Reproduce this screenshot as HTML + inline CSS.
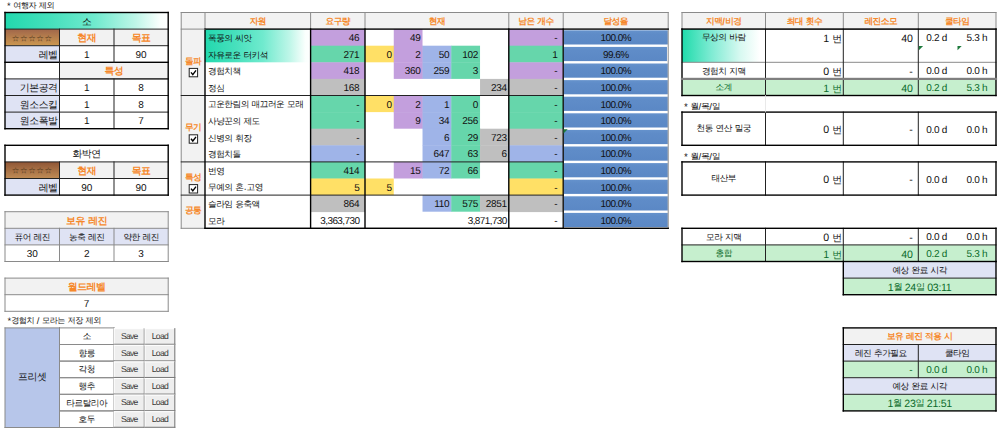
<!DOCTYPE html>
<html lang="ko"><head><meta charset="utf-8"><title>sheet</title>
<style>
html,body{margin:0;padding:0;background:#fff;}
body{width:1000px;height:431px;overflow:hidden;position:relative;font-family:"Liberation Sans",sans-serif;color:#111;text-rendering:geometricPrecision;}
#bg{position:absolute;left:0;top:0;}
.t{position:absolute;white-space:nowrap;overflow:visible;font-size:10px;}
.h{font-size:0.87em;letter-spacing:-0.06em;word-spacing:0.1em;position:relative;top:-1.2px;}
.a{font-size:10px;margin-top:0.7px;}
.a .h{font-size:0.99em;letter-spacing:-0.045em;word-spacing:0.1em;top:0;}
.m{font-size:10px;letter-spacing:-0.3px;margin-top:0.7px;}
.s{font-size:10px;}
.pc{letter-spacing:-0.55px;}
.big{letter-spacing:-0.6px;}
.rb{font-size:10.6px;letter-spacing:-0.2px;}
.rb .h{font-size:0.93em;letter-spacing:0;top:-0.4px;margin-left:0.6px;}
.xs{font-size:9.8px;}
.note{font-size:9.4px;}
.dt{font-size:10.6px;}
.btn{font-size:8.6px;color:#3a3a3a;letter-spacing:-0.75px;}
.o{color:#f6882a;font-weight:bold;}
.g{color:#0b6b2a;}
.star{font-size:7.6px;color:#4a3318;letter-spacing:0.6px;}
</style></head><body>
<svg id="bg" width="1000" height="431" viewBox="0 0 1000 431">
<defs>
<linearGradient id="gteal" x1="0" x2="1" y1="0" y2="0"><stop offset="0" stop-color="#22d9ae"/><stop offset="0.28" stop-color="#46e0bc"/><stop offset="0.55" stop-color="#70eace"/><stop offset="0.8" stop-color="#bef6e8"/><stop offset="0.95" stop-color="#fafffd"/><stop offset="1" stop-color="#ffffff"/></linearGradient>
<linearGradient id="gteal2" x1="0" x2="1" y1="0" y2="0"><stop offset="0" stop-color="#22d9ae"/><stop offset="0.28" stop-color="#46e0bc"/><stop offset="0.55" stop-color="#70eace"/><stop offset="0.8" stop-color="#bef6e8"/><stop offset="0.95" stop-color="#fafffd"/><stop offset="1" stop-color="#ffffff"/></linearGradient>
<linearGradient id="gteal3" x1="0" x2="1" y1="0" y2="0"><stop offset="0" stop-color="#1fdbab"/><stop offset="0.35" stop-color="#7eebd3"/><stop offset="0.7" stop-color="#d8f9f1"/><stop offset="0.93" stop-color="#ffffff"/></linearGradient>
<linearGradient id="gbrown" x1="0" x2="0" y1="0" y2="1"><stop offset="0" stop-color="#a0664a"/><stop offset="1" stop-color="#cc9850"/></linearGradient>
<linearGradient id="gbrown2" x1="0" x2="0" y1="0" y2="1"><stop offset="0" stop-color="#8f5636"/><stop offset="1" stop-color="#c08c55"/></linearGradient>
<linearGradient id="gbar" x1="0" x2="0" y1="0" y2="1"><stop offset="0" stop-color="#6592cc"/><stop offset="0.25" stop-color="#5f8cc8"/><stop offset="1" stop-color="#5b88c5"/></linearGradient>
</defs>
<rect x="5.00" y="12.50" width="163.20" height="16.60" fill="url(#gteal)" />
<rect x="5.00" y="29.10" width="54.50" height="16.60" fill="url(#gbrown)" />
<rect x="59.50" y="29.10" width="108.70" height="16.60" fill="#f2f2f2" />
<rect x="5.00" y="45.70" width="54.50" height="16.60" fill="#dfe3f4" />
<rect x="59.50" y="62.30" width="108.70" height="16.60" fill="#f2f2f2" />
<rect x="5.00" y="78.90" width="54.50" height="16.60" fill="#dfe3f4" />
<rect x="5.00" y="95.50" width="54.50" height="16.60" fill="#dfe3f4" />
<rect x="5.00" y="112.10" width="54.50" height="16.60" fill="#dfe3f4" />
<rect x="4.50" y="28.60" width="164.20" height="1.00" fill="#222"/>
<rect x="4.50" y="45.20" width="164.20" height="1.00" fill="#222"/>
<rect x="4.50" y="78.40" width="164.20" height="1.00" fill="#222"/>
<rect x="4.50" y="95.00" width="164.20" height="1.00" fill="#222"/>
<rect x="4.50" y="111.60" width="164.20" height="1.00" fill="#222"/>
<rect x="4.31" y="61.61" width="164.58" height="1.38" fill="#000"/>
<rect x="59.00" y="78.40" width="109.70" height="1.00" fill="#222"/>
<rect x="59.00" y="28.60" width="1.00" height="100.60" fill="#222"/>
<rect x="113.50" y="28.60" width="1.00" height="34.20" fill="#222"/>
<rect x="113.50" y="78.40" width="1.00" height="50.80" fill="#222"/>
<rect x="4.31" y="11.81" width="164.58" height="1.38" fill="#000"/>
<rect x="4.31" y="128.01" width="164.58" height="1.38" fill="#000"/>
<rect x="4.31" y="11.81" width="1.38" height="117.58" fill="#000"/>
<rect x="167.51" y="11.81" width="1.38" height="117.58" fill="#000"/>
<rect x="5.00" y="161.90" width="54.50" height="16.60" fill="url(#gbrown2)" />
<rect x="59.50" y="161.90" width="108.70" height="16.60" fill="#f2f2f2" />
<rect x="5.00" y="178.50" width="54.50" height="16.60" fill="#dfe3f4" />
<rect x="4.50" y="161.40" width="164.20" height="1.00" fill="#222"/>
<rect x="4.50" y="178.00" width="164.20" height="1.00" fill="#222"/>
<rect x="59.00" y="161.40" width="1.00" height="34.20" fill="#222"/>
<rect x="113.50" y="161.40" width="1.00" height="34.20" fill="#222"/>
<rect x="4.31" y="144.61" width="164.58" height="1.38" fill="#000"/>
<rect x="4.31" y="194.41" width="164.58" height="1.38" fill="#000"/>
<rect x="4.31" y="144.61" width="1.38" height="51.18" fill="#000"/>
<rect x="167.51" y="144.61" width="1.38" height="51.18" fill="#000"/>
<rect x="5.00" y="211.70" width="163.20" height="16.60" fill="#f2f2f2" />
<rect x="5.00" y="228.30" width="163.20" height="16.60" fill="#dfe3f4" />
<rect x="4.50" y="227.80" width="164.20" height="1.00" fill="#8a8a8a"/>
<rect x="4.50" y="244.40" width="164.20" height="1.00" fill="#8a8a8a"/>
<rect x="59.00" y="227.80" width="1.00" height="34.20" fill="#8a8a8a"/>
<rect x="113.50" y="227.80" width="1.00" height="34.20" fill="#8a8a8a"/>
<rect x="4.50" y="211.20" width="164.20" height="1.00" fill="#8a8a8a"/>
<rect x="4.50" y="261.00" width="164.20" height="1.00" fill="#8a8a8a"/>
<rect x="4.50" y="211.20" width="1.00" height="50.80" fill="#8a8a8a"/>
<rect x="167.70" y="211.20" width="1.00" height="50.80" fill="#8a8a8a"/>
<rect x="5.00" y="278.10" width="163.20" height="16.60" fill="#f2f2f2" />
<rect x="4.50" y="294.20" width="164.20" height="1.00" fill="#8a8a8a"/>
<rect x="4.50" y="277.60" width="164.20" height="1.00" fill="#8a8a8a"/>
<rect x="4.50" y="310.80" width="164.20" height="1.00" fill="#8a8a8a"/>
<rect x="4.50" y="277.60" width="1.00" height="34.20" fill="#8a8a8a"/>
<rect x="167.70" y="277.60" width="1.00" height="34.20" fill="#8a8a8a"/>
<rect x="5.00" y="327.90" width="54.50" height="99.60" fill="#b7c6ea" />
<rect x="4.50" y="327.40" width="55.50" height="1.00" fill="#8a8a8a"/>
<rect x="4.50" y="427.00" width="55.50" height="1.00" fill="#8a8a8a"/>
<rect x="4.50" y="327.40" width="1.00" height="100.60" fill="#8a8a8a"/>
<rect x="59.00" y="327.40" width="1.00" height="100.60" fill="#8a8a8a"/>
<rect x="59.00" y="327.40" width="55.50" height="1.00" fill="#8a8a8a"/>
<rect x="59.00" y="344.00" width="55.50" height="1.00" fill="#8a8a8a"/>
<rect x="59.00" y="327.40" width="1.00" height="17.60" fill="#8a8a8a"/>
<rect x="113.50" y="327.40" width="1.00" height="17.60" fill="#8a8a8a"/>
<rect x="114.30" y="328.70" width="30.00" height="15.60" fill="#eeeeee" />
<rect x="113.80" y="328.20" width="31.00" height="1.00" fill="#ffffff"/>
<rect x="113.80" y="328.20" width="1.00" height="16.60" fill="#ffffff"/>
<rect x="113.75" y="343.75" width="31.10" height="1.10" fill="#7c7c7c"/>
<rect x="143.75" y="328.15" width="1.10" height="16.70" fill="#7c7c7c"/>
<rect x="145.00" y="328.70" width="29.80" height="15.60" fill="#eeeeee" />
<rect x="144.50" y="328.20" width="30.80" height="1.00" fill="#ffffff"/>
<rect x="144.50" y="328.20" width="1.00" height="16.60" fill="#ffffff"/>
<rect x="144.45" y="343.75" width="30.90" height="1.10" fill="#7c7c7c"/>
<rect x="174.25" y="328.15" width="1.10" height="16.70" fill="#7c7c7c"/>
<rect x="59.00" y="344.00" width="55.50" height="1.00" fill="#8a8a8a"/>
<rect x="59.00" y="360.60" width="55.50" height="1.00" fill="#8a8a8a"/>
<rect x="59.00" y="344.00" width="1.00" height="17.60" fill="#8a8a8a"/>
<rect x="113.50" y="344.00" width="1.00" height="17.60" fill="#8a8a8a"/>
<rect x="114.30" y="345.30" width="30.00" height="15.60" fill="#eeeeee" />
<rect x="113.80" y="344.80" width="31.00" height="1.00" fill="#ffffff"/>
<rect x="113.80" y="344.80" width="1.00" height="16.60" fill="#ffffff"/>
<rect x="113.75" y="360.35" width="31.10" height="1.10" fill="#7c7c7c"/>
<rect x="143.75" y="344.75" width="1.10" height="16.70" fill="#7c7c7c"/>
<rect x="145.00" y="345.30" width="29.80" height="15.60" fill="#eeeeee" />
<rect x="144.50" y="344.80" width="30.80" height="1.00" fill="#ffffff"/>
<rect x="144.50" y="344.80" width="1.00" height="16.60" fill="#ffffff"/>
<rect x="144.45" y="360.35" width="30.90" height="1.10" fill="#7c7c7c"/>
<rect x="174.25" y="344.75" width="1.10" height="16.70" fill="#7c7c7c"/>
<rect x="59.00" y="360.60" width="55.50" height="1.00" fill="#8a8a8a"/>
<rect x="59.00" y="377.20" width="55.50" height="1.00" fill="#8a8a8a"/>
<rect x="59.00" y="360.60" width="1.00" height="17.60" fill="#8a8a8a"/>
<rect x="113.50" y="360.60" width="1.00" height="17.60" fill="#8a8a8a"/>
<rect x="114.30" y="361.90" width="30.00" height="15.60" fill="#eeeeee" />
<rect x="113.80" y="361.40" width="31.00" height="1.00" fill="#ffffff"/>
<rect x="113.80" y="361.40" width="1.00" height="16.60" fill="#ffffff"/>
<rect x="113.75" y="376.95" width="31.10" height="1.10" fill="#7c7c7c"/>
<rect x="143.75" y="361.35" width="1.10" height="16.70" fill="#7c7c7c"/>
<rect x="145.00" y="361.90" width="29.80" height="15.60" fill="#eeeeee" />
<rect x="144.50" y="361.40" width="30.80" height="1.00" fill="#ffffff"/>
<rect x="144.50" y="361.40" width="1.00" height="16.60" fill="#ffffff"/>
<rect x="144.45" y="376.95" width="30.90" height="1.10" fill="#7c7c7c"/>
<rect x="174.25" y="361.35" width="1.10" height="16.70" fill="#7c7c7c"/>
<rect x="59.00" y="377.20" width="55.50" height="1.00" fill="#8a8a8a"/>
<rect x="59.00" y="393.80" width="55.50" height="1.00" fill="#8a8a8a"/>
<rect x="59.00" y="377.20" width="1.00" height="17.60" fill="#8a8a8a"/>
<rect x="113.50" y="377.20" width="1.00" height="17.60" fill="#8a8a8a"/>
<rect x="114.30" y="378.50" width="30.00" height="15.60" fill="#eeeeee" />
<rect x="113.80" y="378.00" width="31.00" height="1.00" fill="#ffffff"/>
<rect x="113.80" y="378.00" width="1.00" height="16.60" fill="#ffffff"/>
<rect x="113.75" y="393.55" width="31.10" height="1.10" fill="#7c7c7c"/>
<rect x="143.75" y="377.95" width="1.10" height="16.70" fill="#7c7c7c"/>
<rect x="145.00" y="378.50" width="29.80" height="15.60" fill="#eeeeee" />
<rect x="144.50" y="378.00" width="30.80" height="1.00" fill="#ffffff"/>
<rect x="144.50" y="378.00" width="1.00" height="16.60" fill="#ffffff"/>
<rect x="144.45" y="393.55" width="30.90" height="1.10" fill="#7c7c7c"/>
<rect x="174.25" y="377.95" width="1.10" height="16.70" fill="#7c7c7c"/>
<rect x="59.00" y="393.80" width="55.50" height="1.00" fill="#8a8a8a"/>
<rect x="59.00" y="410.40" width="55.50" height="1.00" fill="#8a8a8a"/>
<rect x="59.00" y="393.80" width="1.00" height="17.60" fill="#8a8a8a"/>
<rect x="113.50" y="393.80" width="1.00" height="17.60" fill="#8a8a8a"/>
<rect x="114.30" y="395.10" width="30.00" height="15.60" fill="#eeeeee" />
<rect x="113.80" y="394.60" width="31.00" height="1.00" fill="#ffffff"/>
<rect x="113.80" y="394.60" width="1.00" height="16.60" fill="#ffffff"/>
<rect x="113.75" y="410.15" width="31.10" height="1.10" fill="#7c7c7c"/>
<rect x="143.75" y="394.55" width="1.10" height="16.70" fill="#7c7c7c"/>
<rect x="145.00" y="395.10" width="29.80" height="15.60" fill="#eeeeee" />
<rect x="144.50" y="394.60" width="30.80" height="1.00" fill="#ffffff"/>
<rect x="144.50" y="394.60" width="1.00" height="16.60" fill="#ffffff"/>
<rect x="144.45" y="410.15" width="30.90" height="1.10" fill="#7c7c7c"/>
<rect x="174.25" y="394.55" width="1.10" height="16.70" fill="#7c7c7c"/>
<rect x="59.00" y="410.40" width="55.50" height="1.00" fill="#8a8a8a"/>
<rect x="59.00" y="427.00" width="55.50" height="1.00" fill="#8a8a8a"/>
<rect x="59.00" y="410.40" width="1.00" height="17.60" fill="#8a8a8a"/>
<rect x="113.50" y="410.40" width="1.00" height="17.60" fill="#8a8a8a"/>
<rect x="114.30" y="411.70" width="30.00" height="15.60" fill="#eeeeee" />
<rect x="113.80" y="411.20" width="31.00" height="1.00" fill="#ffffff"/>
<rect x="113.80" y="411.20" width="1.00" height="16.60" fill="#ffffff"/>
<rect x="113.75" y="426.75" width="31.10" height="1.10" fill="#7c7c7c"/>
<rect x="143.75" y="411.15" width="1.10" height="16.70" fill="#7c7c7c"/>
<rect x="145.00" y="411.70" width="29.80" height="15.60" fill="#eeeeee" />
<rect x="144.50" y="411.20" width="30.80" height="1.00" fill="#ffffff"/>
<rect x="144.50" y="411.20" width="1.00" height="16.60" fill="#ffffff"/>
<rect x="144.45" y="426.75" width="30.90" height="1.10" fill="#7c7c7c"/>
<rect x="174.25" y="411.15" width="1.10" height="16.70" fill="#7c7c7c"/>
<rect x="181.20" y="12.50" width="487.00" height="16.60" fill="#f2f2f2" />
<rect x="181.20" y="29.10" width="23.80" height="199.20" fill="#f2f2f2" />
<rect x="205.00" y="29.10" width="105.60" height="33.20" fill="url(#gteal2)" />
<rect x="310.60" y="29.10" width="54.40" height="17.00" fill="#c39fdd" />
<rect x="393.76" y="29.10" width="28.76" height="17.00" fill="#c39fdd" />
<rect x="508.80" y="29.10" width="54.40" height="17.00" fill="#c39fdd" />
<rect x="563.90" y="30.30" width="103.90" height="14.20" fill="url(#gbar)" />
<rect x="310.60" y="45.70" width="54.40" height="17.00" fill="#66d6ab" />
<rect x="365.00" y="45.70" width="29.16" height="16.60" fill="#ffe066" />
<rect x="393.76" y="45.70" width="29.16" height="17.00" fill="#c39fdd" />
<rect x="422.52" y="45.70" width="29.16" height="17.00" fill="#9fb4e8" />
<rect x="451.28" y="45.70" width="28.76" height="17.00" fill="#66d6ab" />
<rect x="508.80" y="45.70" width="54.40" height="17.00" fill="#66d6ab" />
<rect x="563.90" y="46.90" width="103.07" height="14.20" fill="url(#gbar)" />
<rect x="310.60" y="62.30" width="54.40" height="17.00" fill="#c39fdd" />
<rect x="393.76" y="62.30" width="29.16" height="16.60" fill="#c39fdd" />
<rect x="422.52" y="62.30" width="29.16" height="16.60" fill="#9fb4e8" />
<rect x="451.28" y="62.30" width="28.76" height="16.60" fill="#66d6ab" />
<rect x="508.80" y="62.30" width="54.40" height="17.00" fill="#c39fdd" />
<rect x="563.90" y="63.50" width="103.90" height="14.20" fill="url(#gbar)" />
<rect x="310.60" y="78.90" width="54.40" height="17.00" fill="#bfbfbf" />
<rect x="480.04" y="78.90" width="28.76" height="16.60" fill="#bfbfbf" />
<rect x="508.80" y="78.90" width="54.40" height="17.00" fill="#bfbfbf" />
<rect x="563.90" y="80.10" width="103.90" height="14.20" fill="url(#gbar)" />
<rect x="310.60" y="95.50" width="54.40" height="17.00" fill="#66d6ab" />
<rect x="365.00" y="95.50" width="29.16" height="16.60" fill="#ffe066" />
<rect x="393.76" y="95.50" width="29.16" height="17.00" fill="#c39fdd" />
<rect x="422.52" y="95.50" width="29.16" height="17.00" fill="#9fb4e8" />
<rect x="451.28" y="95.50" width="28.76" height="17.00" fill="#66d6ab" />
<rect x="508.80" y="95.50" width="54.40" height="17.00" fill="#66d6ab" />
<rect x="563.90" y="96.70" width="103.90" height="14.20" fill="url(#gbar)" />
<rect x="310.60" y="112.10" width="54.40" height="17.00" fill="#66d6ab" />
<rect x="393.76" y="112.10" width="29.16" height="16.60" fill="#c39fdd" />
<rect x="422.52" y="112.10" width="29.16" height="17.00" fill="#9fb4e8" />
<rect x="451.28" y="112.10" width="28.76" height="17.00" fill="#66d6ab" />
<rect x="508.80" y="112.10" width="54.40" height="17.00" fill="#66d6ab" />
<rect x="563.90" y="113.30" width="103.90" height="14.20" fill="url(#gbar)" />
<rect x="310.60" y="128.70" width="54.40" height="17.00" fill="#bfbfbf" />
<rect x="422.52" y="128.70" width="29.16" height="17.00" fill="#9fb4e8" />
<rect x="451.28" y="128.70" width="29.16" height="17.00" fill="#66d6ab" />
<rect x="480.04" y="128.70" width="28.76" height="17.00" fill="#bfbfbf" />
<rect x="508.80" y="128.70" width="54.40" height="17.00" fill="#bfbfbf" />
<rect x="563.90" y="129.90" width="103.90" height="14.20" fill="url(#gbar)" />
<rect x="310.60" y="145.30" width="54.40" height="17.00" fill="#9fb4e8" />
<rect x="422.52" y="145.30" width="29.16" height="17.00" fill="#9fb4e8" />
<rect x="451.28" y="145.30" width="29.16" height="17.00" fill="#66d6ab" />
<rect x="480.04" y="145.30" width="28.76" height="16.60" fill="#bfbfbf" />
<rect x="508.80" y="145.30" width="54.40" height="17.00" fill="#9fb4e8" />
<rect x="563.90" y="146.50" width="103.90" height="14.20" fill="url(#gbar)" />
<rect x="310.60" y="161.90" width="54.40" height="17.00" fill="#66d6ab" />
<rect x="393.76" y="161.90" width="29.16" height="16.60" fill="#c39fdd" />
<rect x="422.52" y="161.90" width="29.16" height="16.60" fill="#9fb4e8" />
<rect x="451.28" y="161.90" width="28.76" height="16.60" fill="#66d6ab" />
<rect x="508.80" y="161.90" width="54.40" height="17.00" fill="#66d6ab" />
<rect x="563.90" y="163.10" width="103.90" height="14.20" fill="url(#gbar)" />
<rect x="310.60" y="178.50" width="54.40" height="17.00" fill="#ffe066" />
<rect x="365.00" y="178.50" width="28.76" height="16.60" fill="#ffe066" />
<rect x="508.80" y="178.50" width="54.40" height="17.00" fill="#ffe066" />
<rect x="563.90" y="179.70" width="103.90" height="14.20" fill="url(#gbar)" />
<rect x="310.60" y="195.10" width="54.40" height="17.00" fill="#bfbfbf" />
<rect x="422.52" y="195.10" width="29.16" height="16.60" fill="#9fb4e8" />
<rect x="451.28" y="195.10" width="29.16" height="16.60" fill="#66d6ab" />
<rect x="480.04" y="195.10" width="28.76" height="16.60" fill="#bfbfbf" />
<rect x="508.80" y="195.10" width="54.40" height="17.00" fill="#bfbfbf" />
<rect x="563.90" y="196.30" width="103.90" height="14.20" fill="url(#gbar)" />
<rect x="563.90" y="212.90" width="103.90" height="14.20" fill="url(#gbar)" />
<rect x="204.50" y="12.00" width="1.00" height="17.60" fill="#8a8a8a"/>
<rect x="310.10" y="12.00" width="1.00" height="17.60" fill="#8a8a8a"/>
<rect x="364.50" y="12.00" width="1.00" height="17.60" fill="#8a8a8a"/>
<rect x="508.30" y="12.00" width="1.00" height="17.60" fill="#8a8a8a"/>
<rect x="562.70" y="12.00" width="1.00" height="17.60" fill="#8a8a8a"/>
<rect x="180.70" y="12.00" width="488.00" height="1.00" fill="#8a8a8a"/>
<rect x="180.70" y="227.80" width="488.00" height="1.00" fill="#8a8a8a"/>
<rect x="180.70" y="12.00" width="1.00" height="216.80" fill="#8a8a8a"/>
<rect x="667.70" y="12.00" width="1.00" height="216.80" fill="#8a8a8a"/>
<rect x="180.70" y="95.00" width="383.00" height="1.00" fill="#222"/>
<rect x="180.70" y="161.40" width="383.00" height="1.00" fill="#222"/>
<rect x="180.70" y="194.60" width="383.00" height="1.00" fill="#222"/>
<rect x="204.31" y="28.41" width="464.58" height="1.38" fill="#000"/>
<rect x="204.31" y="227.61" width="464.58" height="1.38" fill="#000"/>
<rect x="204.31" y="28.41" width="1.38" height="200.58" fill="#000"/>
<rect x="309.91" y="28.41" width="1.38" height="200.58" fill="#000"/>
<rect x="364.31" y="28.41" width="1.38" height="200.58" fill="#000"/>
<rect x="508.11" y="28.41" width="1.38" height="200.58" fill="#000"/>
<rect x="562.55" y="28.45" width="1.30" height="200.50" fill="#000"/>
<path d="M563.50 129.30 h4.2 l-4.2 4.2 z" fill="#1e7a3c"/>
<rect x="180.70" y="28.60" width="24.80" height="1.00" fill="#8a8a8a"/>
<rect x="189.20" y="68.40" width="8.4" height="8.4" fill="#fff" stroke="#222" stroke-width="1"/>
<path d="M191.00 72.40 L192.80 74.60 L196.00 70.40" fill="none" stroke="#000" stroke-width="1.4"/>
<rect x="189.20" y="134.80" width="8.4" height="8.4" fill="#fff" stroke="#222" stroke-width="1"/>
<path d="M191.00 138.80 L192.80 141.00 L196.00 136.80" fill="none" stroke="#000" stroke-width="1.4"/>
<rect x="189.20" y="184.60" width="8.4" height="8.4" fill="#fff" stroke="#222" stroke-width="1"/>
<path d="M191.00 188.60 L192.80 190.80 L196.00 186.60" fill="none" stroke="#000" stroke-width="1.4"/>
<rect x="682.00" y="12.50" width="314.00" height="16.60" fill="#f2f2f2" />
<rect x="765.00" y="12.00" width="1.00" height="17.60" fill="#8a8a8a"/>
<rect x="842.80" y="12.00" width="1.00" height="17.60" fill="#8a8a8a"/>
<rect x="917.80" y="12.00" width="1.00" height="17.60" fill="#8a8a8a"/>
<rect x="681.50" y="12.00" width="315.00" height="1.00" fill="#8a8a8a"/>
<rect x="681.50" y="28.60" width="315.00" height="1.00" fill="#8a8a8a"/>
<rect x="681.50" y="12.00" width="1.00" height="17.60" fill="#8a8a8a"/>
<rect x="995.50" y="12.00" width="1.00" height="17.60" fill="#8a8a8a"/>
<rect x="682.00" y="29.10" width="83.50" height="33.20" fill="url(#gteal3)" />
<rect x="682.00" y="78.90" width="314.00" height="16.60" fill="#c6efce" />
<rect x="681.50" y="61.80" width="315.00" height="1.00" fill="#8a8a8a"/>
<rect x="765.00" y="28.60" width="1.00" height="67.40" fill="#222"/>
<rect x="842.80" y="28.60" width="1.00" height="67.40" fill="#222"/>
<rect x="917.80" y="28.60" width="1.00" height="67.40" fill="#222"/>
<rect x="681.31" y="28.41" width="315.38" height="1.38" fill="#000"/>
<rect x="681.31" y="94.81" width="315.38" height="1.38" fill="#000"/>
<rect x="681.31" y="28.41" width="1.38" height="67.78" fill="#000"/>
<rect x="995.31" y="28.41" width="1.38" height="67.78" fill="#000"/>
<rect x="680.90" y="77.80" width="316.20" height="2.20" fill="#7f7f7f"/>
<path d="M918.90 46.10 h4.2 l-4.2 4.2 z" fill="#1e7a3c"/>
<path d="M957.50 46.10 h4.2 l-4.2 4.2 z" fill="#1e7a3c"/>
<rect x="765.00" y="111.60" width="1.00" height="34.20" fill="#222"/>
<rect x="842.80" y="111.60" width="1.00" height="34.20" fill="#222"/>
<rect x="917.80" y="111.60" width="1.00" height="34.20" fill="#222"/>
<rect x="681.31" y="111.41" width="315.38" height="1.38" fill="#000"/>
<rect x="681.31" y="144.61" width="315.38" height="1.38" fill="#000"/>
<rect x="681.31" y="111.41" width="1.38" height="34.58" fill="#000"/>
<rect x="995.31" y="111.41" width="1.38" height="34.58" fill="#000"/>
<rect x="765.00" y="161.40" width="1.00" height="34.20" fill="#222"/>
<rect x="842.80" y="161.40" width="1.00" height="34.20" fill="#222"/>
<rect x="917.80" y="161.40" width="1.00" height="34.20" fill="#222"/>
<rect x="681.31" y="161.21" width="315.38" height="1.38" fill="#000"/>
<rect x="681.31" y="194.41" width="315.38" height="1.38" fill="#000"/>
<rect x="681.31" y="161.21" width="1.38" height="34.58" fill="#000"/>
<rect x="995.31" y="161.21" width="1.38" height="34.58" fill="#000"/>
<rect x="682.00" y="244.90" width="314.00" height="16.60" fill="#c6efce" />
<rect x="843.30" y="261.50" width="152.70" height="16.60" fill="#dfe3f4" />
<rect x="843.30" y="278.10" width="152.70" height="16.60" fill="#c6efce" />
<rect x="681.50" y="244.40" width="315.00" height="1.00" fill="#222"/>
<rect x="842.80" y="277.60" width="153.70" height="1.00" fill="#222"/>
<rect x="765.00" y="227.80" width="1.00" height="34.20" fill="#222"/>
<rect x="842.80" y="227.80" width="1.00" height="34.20" fill="#222"/>
<rect x="917.80" y="227.80" width="1.00" height="34.20" fill="#222"/>
<rect x="681.31" y="227.61" width="315.38" height="1.38" fill="#000"/>
<rect x="681.31" y="260.81" width="315.38" height="1.38" fill="#000"/>
<rect x="681.31" y="227.61" width="1.38" height="34.58" fill="#000"/>
<rect x="995.31" y="227.61" width="1.38" height="34.58" fill="#000"/>
<rect x="842.61" y="260.81" width="1.38" height="34.58" fill="#000"/>
<rect x="995.31" y="260.81" width="1.38" height="34.58" fill="#000"/>
<rect x="842.61" y="294.01" width="154.08" height="1.38" fill="#000"/>
<rect x="843.30" y="327.90" width="152.70" height="16.60" fill="#f2f2f2" />
<rect x="843.30" y="344.50" width="152.70" height="16.60" fill="#dfe3f4" />
<rect x="843.30" y="361.10" width="152.70" height="16.60" fill="#c6efce" />
<rect x="843.30" y="377.70" width="152.70" height="16.60" fill="#dfe3f4" />
<rect x="843.30" y="394.30" width="152.70" height="16.60" fill="#c6efce" />
<rect x="842.80" y="344.00" width="153.70" height="1.00" fill="#222"/>
<rect x="842.80" y="360.60" width="153.70" height="1.00" fill="#222"/>
<rect x="842.80" y="377.20" width="153.70" height="1.00" fill="#222"/>
<rect x="842.80" y="393.80" width="153.70" height="1.00" fill="#222"/>
<rect x="917.80" y="344.00" width="1.00" height="34.20" fill="#222"/>
<rect x="842.61" y="327.21" width="154.08" height="1.38" fill="#000"/>
<rect x="842.61" y="410.21" width="154.08" height="1.38" fill="#000"/>
<rect x="842.61" y="327.21" width="1.38" height="84.38" fill="#000"/>
<rect x="995.31" y="327.21" width="1.38" height="84.38" fill="#000"/>
<rect x="765.10" y="95.10" width="0.80" height="17.40" fill="#e4e4e4"/>
</svg>
<div class="t note" style="left:7.00px;top:-0.20px;width:113.00px;height:12.50px;line-height:12.50px;text-align:left;">* <span class="h">여행자 제외</span></div>
<div class="t a" style="left:5.00px;top:13.90px;width:163.20px;height:16.60px;line-height:16.60px;text-align:center;"><span class="h">소</span></div>
<div class="t star" style="left:5.00px;top:30.50px;width:54.50px;height:16.60px;line-height:16.60px;text-align:center;">☆☆☆☆☆</div>
<div class="t o a" style="left:59.50px;top:30.50px;width:54.50px;height:16.60px;line-height:16.60px;text-align:center;"><span class="h">현재</span></div>
<div class="t o a" style="left:114.00px;top:30.50px;width:54.20px;height:16.60px;line-height:16.60px;text-align:center;"><span class="h">목표</span></div>
<div class="t a" style="left:5.00px;top:47.10px;width:52.50px;height:16.60px;line-height:16.60px;text-align:right;"><span class="h">레벨</span></div>
<div class="t a" style="left:59.50px;top:47.10px;width:54.50px;height:16.60px;line-height:16.60px;text-align:center;">1</div>
<div class="t a" style="left:114.00px;top:47.10px;width:54.20px;height:16.60px;line-height:16.60px;text-align:center;">90</div>
<div class="t o a" style="left:59.50px;top:63.70px;width:108.70px;height:16.60px;line-height:16.60px;text-align:center;"><span class="h">특성</span></div>
<div class="t a" style="left:5.00px;top:80.30px;width:52.50px;height:16.60px;line-height:16.60px;text-align:right;"><span class="h">기본공격</span></div>
<div class="t a" style="left:59.50px;top:80.30px;width:54.50px;height:16.60px;line-height:16.60px;text-align:center;">1</div>
<div class="t a" style="left:114.00px;top:80.30px;width:54.20px;height:16.60px;line-height:16.60px;text-align:center;">8</div>
<div class="t a" style="left:5.00px;top:96.90px;width:52.50px;height:16.60px;line-height:16.60px;text-align:right;"><span class="h">원소스킬</span></div>
<div class="t a" style="left:59.50px;top:96.90px;width:54.50px;height:16.60px;line-height:16.60px;text-align:center;">1</div>
<div class="t a" style="left:114.00px;top:96.90px;width:54.20px;height:16.60px;line-height:16.60px;text-align:center;">8</div>
<div class="t a" style="left:5.00px;top:113.50px;width:52.50px;height:16.60px;line-height:16.60px;text-align:right;"><span class="h">원소폭발</span></div>
<div class="t a" style="left:59.50px;top:113.50px;width:54.50px;height:16.60px;line-height:16.60px;text-align:center;">1</div>
<div class="t a" style="left:114.00px;top:113.50px;width:54.20px;height:16.60px;line-height:16.60px;text-align:center;">7</div>
<div class="t a" style="left:5.00px;top:146.70px;width:163.20px;height:16.60px;line-height:16.60px;text-align:center;"><span class="h">화박연</span></div>
<div class="t star" style="left:5.00px;top:163.30px;width:54.50px;height:16.60px;line-height:16.60px;text-align:center;">☆☆☆☆☆</div>
<div class="t o a" style="left:59.50px;top:163.30px;width:54.50px;height:16.60px;line-height:16.60px;text-align:center;"><span class="h">현재</span></div>
<div class="t o a" style="left:114.00px;top:163.30px;width:54.20px;height:16.60px;line-height:16.60px;text-align:center;"><span class="h">목표</span></div>
<div class="t a" style="left:5.00px;top:179.90px;width:52.50px;height:16.60px;line-height:16.60px;text-align:right;"><span class="h">레벨</span></div>
<div class="t a" style="left:59.50px;top:179.90px;width:54.50px;height:16.60px;line-height:16.60px;text-align:center;">90</div>
<div class="t a" style="left:114.00px;top:179.90px;width:54.20px;height:16.60px;line-height:16.60px;text-align:center;">90</div>
<div class="t o a" style="left:5.00px;top:213.10px;width:163.20px;height:16.60px;line-height:16.60px;text-align:center;"><span class="h">보유 레진</span></div>
<div class="t s" style="left:5.00px;top:229.70px;width:54.50px;height:16.60px;line-height:16.60px;text-align:center;"><span class="h">퓨어 레진</span></div>
<div class="t s" style="left:59.50px;top:229.70px;width:54.50px;height:16.60px;line-height:16.60px;text-align:center;"><span class="h">농축 레진</span></div>
<div class="t s" style="left:114.00px;top:229.70px;width:54.20px;height:16.60px;line-height:16.60px;text-align:center;"><span class="h">약한 레진</span></div>
<div class="t a" style="left:5.00px;top:246.30px;width:54.50px;height:16.60px;line-height:16.60px;text-align:center;">30</div>
<div class="t a" style="left:59.50px;top:246.30px;width:54.50px;height:16.60px;line-height:16.60px;text-align:center;">2</div>
<div class="t a" style="left:114.00px;top:246.30px;width:54.20px;height:16.60px;line-height:16.60px;text-align:center;">3</div>
<div class="t o a" style="left:5.00px;top:279.50px;width:163.20px;height:16.60px;line-height:16.60px;text-align:center;"><span class="h">월드레벨</span></div>
<div class="t a" style="left:5.00px;top:296.10px;width:163.20px;height:16.60px;line-height:16.60px;text-align:center;">7</div>
<div class="t note" style="left:7.50px;top:312.70px;width:192.50px;height:16.60px;line-height:16.60px;text-align:left;">*<span class="h">경험치</span> / <span class="h">모라는 저장 제외</span></div>
<div class="t s" style="left:59.50px;top:329.30px;width:54.50px;height:16.60px;line-height:16.60px;text-align:center;"><span class="h">소</span></div>
<div class="t btn" style="left:114.30px;top:328.90px;width:30.00px;height:15.60px;line-height:15.60px;text-align:center;">Save</div>
<div class="t btn" style="left:145.00px;top:328.90px;width:29.80px;height:15.60px;line-height:15.60px;text-align:center;">Load</div>
<div class="t s" style="left:59.50px;top:345.90px;width:54.50px;height:16.60px;line-height:16.60px;text-align:center;"><span class="h">향릉</span></div>
<div class="t btn" style="left:114.30px;top:345.50px;width:30.00px;height:15.60px;line-height:15.60px;text-align:center;">Save</div>
<div class="t btn" style="left:145.00px;top:345.50px;width:29.80px;height:15.60px;line-height:15.60px;text-align:center;">Load</div>
<div class="t s" style="left:59.50px;top:362.50px;width:54.50px;height:16.60px;line-height:16.60px;text-align:center;"><span class="h">각청</span></div>
<div class="t btn" style="left:114.30px;top:362.10px;width:30.00px;height:15.60px;line-height:15.60px;text-align:center;">Save</div>
<div class="t btn" style="left:145.00px;top:362.10px;width:29.80px;height:15.60px;line-height:15.60px;text-align:center;">Load</div>
<div class="t s" style="left:59.50px;top:379.10px;width:54.50px;height:16.60px;line-height:16.60px;text-align:center;"><span class="h">행추</span></div>
<div class="t btn" style="left:114.30px;top:378.70px;width:30.00px;height:15.60px;line-height:15.60px;text-align:center;">Save</div>
<div class="t btn" style="left:145.00px;top:378.70px;width:29.80px;height:15.60px;line-height:15.60px;text-align:center;">Load</div>
<div class="t s" style="left:59.50px;top:395.70px;width:54.50px;height:16.60px;line-height:16.60px;text-align:center;"><span class="h">타르탈리아</span></div>
<div class="t btn" style="left:114.30px;top:395.30px;width:30.00px;height:15.60px;line-height:15.60px;text-align:center;">Save</div>
<div class="t btn" style="left:145.00px;top:395.30px;width:29.80px;height:15.60px;line-height:15.60px;text-align:center;">Load</div>
<div class="t s" style="left:59.50px;top:412.30px;width:54.50px;height:16.60px;line-height:16.60px;text-align:center;"><span class="h">호두</span></div>
<div class="t btn" style="left:114.30px;top:411.90px;width:30.00px;height:15.60px;line-height:15.60px;text-align:center;">Save</div>
<div class="t btn" style="left:145.00px;top:411.90px;width:29.80px;height:15.60px;line-height:15.60px;text-align:center;">Load</div>
<div class="t a" style="left:5.00px;top:327.50px;width:54.50px;height:99.60px;line-height:99.60px;text-align:center;"><span class="h">프리셋</span></div>
<div class="t m" style="left:208.00px;top:30.50px;width:102.60px;height:16.60px;line-height:16.60px;text-align:left;"><span class="h">폭풍의 씨앗</span></div>
<div class="t m" style="left:310.60px;top:30.50px;width:48.80px;height:16.60px;line-height:16.60px;text-align:right;">46</div>
<div class="t m" style="left:393.76px;top:30.50px;width:26.76px;height:16.60px;line-height:16.60px;text-align:right;">49</div>
<div class="t m" style="left:508.80px;top:30.50px;width:48.60px;height:16.60px;line-height:16.60px;text-align:right;">-</div>
<div class="t m pc" style="left:563.20px;top:30.50px;width:105.00px;height:16.60px;line-height:16.60px;text-align:center;">100.0%</div>
<div class="t m" style="left:208.00px;top:47.10px;width:102.60px;height:16.60px;line-height:16.60px;text-align:left;"><span class="h">자유로운 터키석</span></div>
<div class="t m" style="left:310.60px;top:47.10px;width:48.80px;height:16.60px;line-height:16.60px;text-align:right;">271</div>
<div class="t m" style="left:365.00px;top:47.10px;width:26.76px;height:16.60px;line-height:16.60px;text-align:right;">0</div>
<div class="t m" style="left:393.76px;top:47.10px;width:26.76px;height:16.60px;line-height:16.60px;text-align:right;">2</div>
<div class="t m" style="left:422.52px;top:47.10px;width:26.76px;height:16.60px;line-height:16.60px;text-align:right;">50</div>
<div class="t m" style="left:451.28px;top:47.10px;width:26.76px;height:16.60px;line-height:16.60px;text-align:right;">102</div>
<div class="t m" style="left:508.80px;top:47.10px;width:48.60px;height:16.60px;line-height:16.60px;text-align:right;">1</div>
<div class="t m pc" style="left:563.20px;top:47.10px;width:105.00px;height:16.60px;line-height:16.60px;text-align:center;">99.6%</div>
<div class="t m" style="left:208.00px;top:63.70px;width:102.60px;height:16.60px;line-height:16.60px;text-align:left;"><span class="h">경험치책</span></div>
<div class="t m" style="left:310.60px;top:63.70px;width:48.80px;height:16.60px;line-height:16.60px;text-align:right;">418</div>
<div class="t m" style="left:393.76px;top:63.70px;width:26.76px;height:16.60px;line-height:16.60px;text-align:right;">360</div>
<div class="t m" style="left:422.52px;top:63.70px;width:26.76px;height:16.60px;line-height:16.60px;text-align:right;">259</div>
<div class="t m" style="left:451.28px;top:63.70px;width:26.76px;height:16.60px;line-height:16.60px;text-align:right;">3</div>
<div class="t m" style="left:508.80px;top:63.70px;width:48.60px;height:16.60px;line-height:16.60px;text-align:right;">-</div>
<div class="t m pc" style="left:563.20px;top:63.70px;width:105.00px;height:16.60px;line-height:16.60px;text-align:center;">100.0%</div>
<div class="t m" style="left:208.00px;top:80.30px;width:102.60px;height:16.60px;line-height:16.60px;text-align:left;"><span class="h">정심</span></div>
<div class="t m" style="left:310.60px;top:80.30px;width:48.80px;height:16.60px;line-height:16.60px;text-align:right;">168</div>
<div class="t m" style="left:480.04px;top:80.30px;width:26.76px;height:16.60px;line-height:16.60px;text-align:right;">234</div>
<div class="t m" style="left:508.80px;top:80.30px;width:48.60px;height:16.60px;line-height:16.60px;text-align:right;">-</div>
<div class="t m pc" style="left:563.20px;top:80.30px;width:105.00px;height:16.60px;line-height:16.60px;text-align:center;">100.0%</div>
<div class="t m" style="left:208.00px;top:96.90px;width:102.60px;height:16.60px;line-height:16.60px;text-align:left;"><span class="h">고운한림의 매끄러운 모래</span></div>
<div class="t m" style="left:310.60px;top:96.90px;width:48.80px;height:16.60px;line-height:16.60px;text-align:right;">-</div>
<div class="t m" style="left:365.00px;top:96.90px;width:26.76px;height:16.60px;line-height:16.60px;text-align:right;">0</div>
<div class="t m" style="left:393.76px;top:96.90px;width:26.76px;height:16.60px;line-height:16.60px;text-align:right;">2</div>
<div class="t m" style="left:422.52px;top:96.90px;width:26.76px;height:16.60px;line-height:16.60px;text-align:right;">1</div>
<div class="t m" style="left:451.28px;top:96.90px;width:26.76px;height:16.60px;line-height:16.60px;text-align:right;">0</div>
<div class="t m" style="left:508.80px;top:96.90px;width:48.60px;height:16.60px;line-height:16.60px;text-align:right;">-</div>
<div class="t m pc" style="left:563.20px;top:96.90px;width:105.00px;height:16.60px;line-height:16.60px;text-align:center;">100.0%</div>
<div class="t m" style="left:208.00px;top:113.50px;width:102.60px;height:16.60px;line-height:16.60px;text-align:left;"><span class="h">사냥꾼의 제도</span></div>
<div class="t m" style="left:310.60px;top:113.50px;width:48.80px;height:16.60px;line-height:16.60px;text-align:right;">-</div>
<div class="t m" style="left:393.76px;top:113.50px;width:26.76px;height:16.60px;line-height:16.60px;text-align:right;">9</div>
<div class="t m" style="left:422.52px;top:113.50px;width:26.76px;height:16.60px;line-height:16.60px;text-align:right;">34</div>
<div class="t m" style="left:451.28px;top:113.50px;width:26.76px;height:16.60px;line-height:16.60px;text-align:right;">256</div>
<div class="t m" style="left:508.80px;top:113.50px;width:48.60px;height:16.60px;line-height:16.60px;text-align:right;">-</div>
<div class="t m pc" style="left:563.20px;top:113.50px;width:105.00px;height:16.60px;line-height:16.60px;text-align:center;">100.0%</div>
<div class="t m" style="left:208.00px;top:130.10px;width:102.60px;height:16.60px;line-height:16.60px;text-align:left;"><span class="h">신병의 휘장</span></div>
<div class="t m" style="left:310.60px;top:130.10px;width:48.80px;height:16.60px;line-height:16.60px;text-align:right;">-</div>
<div class="t m" style="left:422.52px;top:130.10px;width:26.76px;height:16.60px;line-height:16.60px;text-align:right;">6</div>
<div class="t m" style="left:451.28px;top:130.10px;width:26.76px;height:16.60px;line-height:16.60px;text-align:right;">29</div>
<div class="t m" style="left:480.04px;top:130.10px;width:26.76px;height:16.60px;line-height:16.60px;text-align:right;">723</div>
<div class="t m" style="left:508.80px;top:130.10px;width:48.60px;height:16.60px;line-height:16.60px;text-align:right;">-</div>
<div class="t m pc" style="left:563.20px;top:130.10px;width:105.00px;height:16.60px;line-height:16.60px;text-align:center;">100.0%</div>
<div class="t m" style="left:208.00px;top:146.70px;width:102.60px;height:16.60px;line-height:16.60px;text-align:left;"><span class="h">경험치돌</span></div>
<div class="t m" style="left:310.60px;top:146.70px;width:48.80px;height:16.60px;line-height:16.60px;text-align:right;">-</div>
<div class="t m" style="left:422.52px;top:146.70px;width:26.76px;height:16.60px;line-height:16.60px;text-align:right;">647</div>
<div class="t m" style="left:451.28px;top:146.70px;width:26.76px;height:16.60px;line-height:16.60px;text-align:right;">63</div>
<div class="t m" style="left:480.04px;top:146.70px;width:26.76px;height:16.60px;line-height:16.60px;text-align:right;">6</div>
<div class="t m" style="left:508.80px;top:146.70px;width:48.60px;height:16.60px;line-height:16.60px;text-align:right;">-</div>
<div class="t m pc" style="left:563.20px;top:146.70px;width:105.00px;height:16.60px;line-height:16.60px;text-align:center;">100.0%</div>
<div class="t m" style="left:208.00px;top:163.30px;width:102.60px;height:16.60px;line-height:16.60px;text-align:left;"><span class="h">번영</span></div>
<div class="t m" style="left:310.60px;top:163.30px;width:48.80px;height:16.60px;line-height:16.60px;text-align:right;">414</div>
<div class="t m" style="left:393.76px;top:163.30px;width:26.76px;height:16.60px;line-height:16.60px;text-align:right;">15</div>
<div class="t m" style="left:422.52px;top:163.30px;width:26.76px;height:16.60px;line-height:16.60px;text-align:right;">72</div>
<div class="t m" style="left:451.28px;top:163.30px;width:26.76px;height:16.60px;line-height:16.60px;text-align:right;">66</div>
<div class="t m" style="left:508.80px;top:163.30px;width:48.60px;height:16.60px;line-height:16.60px;text-align:right;">-</div>
<div class="t m pc" style="left:563.20px;top:163.30px;width:105.00px;height:16.60px;line-height:16.60px;text-align:center;">100.0%</div>
<div class="t m" style="left:208.00px;top:179.90px;width:102.60px;height:16.60px;line-height:16.60px;text-align:left;"><span class="h">무예의 혼</span>·<span class="h">고영</span></div>
<div class="t m" style="left:310.60px;top:179.90px;width:48.80px;height:16.60px;line-height:16.60px;text-align:right;">5</div>
<div class="t m" style="left:365.00px;top:179.90px;width:26.76px;height:16.60px;line-height:16.60px;text-align:right;">5</div>
<div class="t m" style="left:508.80px;top:179.90px;width:48.60px;height:16.60px;line-height:16.60px;text-align:right;">-</div>
<div class="t m pc" style="left:563.20px;top:179.90px;width:105.00px;height:16.60px;line-height:16.60px;text-align:center;">100.0%</div>
<div class="t m" style="left:208.00px;top:196.50px;width:102.60px;height:16.60px;line-height:16.60px;text-align:left;"><span class="h">슬라임 응축액</span></div>
<div class="t m" style="left:310.60px;top:196.50px;width:48.80px;height:16.60px;line-height:16.60px;text-align:right;">864</div>
<div class="t m" style="left:422.52px;top:196.50px;width:26.76px;height:16.60px;line-height:16.60px;text-align:right;">110</div>
<div class="t m" style="left:451.28px;top:196.50px;width:26.76px;height:16.60px;line-height:16.60px;text-align:right;">575</div>
<div class="t m" style="left:480.04px;top:196.50px;width:26.76px;height:16.60px;line-height:16.60px;text-align:right;">2851</div>
<div class="t m" style="left:508.80px;top:196.50px;width:48.60px;height:16.60px;line-height:16.60px;text-align:right;">-</div>
<div class="t m pc" style="left:563.20px;top:196.50px;width:105.00px;height:16.60px;line-height:16.60px;text-align:center;">100.0%</div>
<div class="t m" style="left:208.00px;top:213.10px;width:102.60px;height:16.60px;line-height:16.60px;text-align:left;"><span class="h">모라</span></div>
<div class="t m big" style="left:310.60px;top:213.10px;width:48.80px;height:16.60px;line-height:16.60px;text-align:right;">3,363,730</div>
<div class="t m big" style="left:365.00px;top:213.10px;width:141.80px;height:16.60px;line-height:16.60px;text-align:right;">3,871,730</div>
<div class="t m" style="left:508.80px;top:213.10px;width:48.60px;height:16.60px;line-height:16.60px;text-align:right;">-</div>
<div class="t m pc" style="left:563.20px;top:213.10px;width:105.00px;height:16.60px;line-height:16.60px;text-align:center;">100.0%</div>
<div class="t o s" style="left:205.00px;top:13.90px;width:105.60px;height:16.60px;line-height:16.60px;text-align:center;"><span class="h">자원</span></div>
<div class="t o s" style="left:310.60px;top:13.90px;width:54.40px;height:16.60px;line-height:16.60px;text-align:center;"><span class="h">요구량</span></div>
<div class="t o s" style="left:365.00px;top:13.90px;width:143.80px;height:16.60px;line-height:16.60px;text-align:center;"><span class="h">현재</span></div>
<div class="t o s" style="left:508.80px;top:13.90px;width:54.40px;height:16.60px;line-height:16.60px;text-align:center;"><span class="h">남은 개수</span></div>
<div class="t o s" style="left:563.20px;top:13.90px;width:105.00px;height:16.60px;line-height:16.60px;text-align:center;"><span class="h">달성율</span></div>
<div class="t o s" style="left:181.20px;top:54.20px;width:23.80px;height:16.00px;line-height:16.00px;text-align:center;"><span class="h">돌파</span></div>
<div class="t o s" style="left:181.20px;top:120.60px;width:23.80px;height:16.00px;line-height:16.00px;text-align:center;"><span class="h">무기</span></div>
<div class="t o s" style="left:181.20px;top:170.40px;width:23.80px;height:16.00px;line-height:16.00px;text-align:center;"><span class="h">특성</span></div>
<div class="t o s" style="left:181.20px;top:203.60px;width:23.80px;height:16.00px;line-height:16.00px;text-align:center;"><span class="h">공통</span></div>
<div class="t o s" style="left:682.00px;top:13.90px;width:83.50px;height:16.60px;line-height:16.60px;text-align:center;"><span class="h">지맥</span>/<span class="h">비경</span></div>
<div class="t o s" style="left:765.50px;top:13.90px;width:77.80px;height:16.60px;line-height:16.60px;text-align:center;"><span class="h">최대 횟수</span></div>
<div class="t o s" style="left:843.30px;top:13.90px;width:75.00px;height:16.60px;line-height:16.60px;text-align:center;"><span class="h">레진소모</span></div>
<div class="t o s" style="left:918.30px;top:13.90px;width:77.70px;height:16.60px;line-height:16.60px;text-align:center;"><span class="h">쿨타임</span></div>
<div class="t s" style="left:682.00px;top:30.50px;width:83.50px;height:16.60px;line-height:16.60px;text-align:center;"><span class="h">무상의 바람</span></div>
<div class="t m rb" style="left:765.50px;top:30.50px;width:76.60px;height:16.60px;line-height:16.60px;text-align:right;">1&nbsp;<span class="h">번</span></div>
<div class="t m rb" style="left:843.30px;top:30.50px;width:69.30px;height:16.60px;line-height:16.60px;text-align:right;">40</div>
<div class="t m" style="left:918.30px;top:30.50px;width:28.70px;height:16.60px;line-height:16.60px;text-align:right;">0.2 d</div>
<div class="t m" style="left:957.00px;top:30.50px;width:30.30px;height:16.60px;line-height:16.60px;text-align:right;">5.3 h</div>
<div class="t s" style="left:682.00px;top:63.70px;width:83.50px;height:16.60px;line-height:16.60px;text-align:center;"><span class="h">경험치 지맥</span></div>
<div class="t m rb" style="left:765.50px;top:63.70px;width:76.60px;height:16.60px;line-height:16.60px;text-align:right;">0&nbsp;<span class="h">번</span></div>
<div class="t m rb" style="left:843.30px;top:63.70px;width:69.30px;height:16.60px;line-height:16.60px;text-align:right;">-</div>
<div class="t m" style="left:918.30px;top:63.70px;width:28.70px;height:16.60px;line-height:16.60px;text-align:right;">0.0 d</div>
<div class="t m" style="left:957.00px;top:63.70px;width:30.30px;height:16.60px;line-height:16.60px;text-align:right;">0.0 h</div>
<div class="t s g" style="left:682.00px;top:80.30px;width:83.50px;height:16.60px;line-height:16.60px;text-align:center;"><span class="h">소계</span></div>
<div class="t m g rb" style="left:765.50px;top:80.30px;width:76.60px;height:16.60px;line-height:16.60px;text-align:right;">1&nbsp;<span class="h">번</span></div>
<div class="t m g rb" style="left:843.30px;top:80.30px;width:69.30px;height:16.60px;line-height:16.60px;text-align:right;">40</div>
<div class="t m g" style="left:918.30px;top:80.30px;width:28.70px;height:16.60px;line-height:16.60px;text-align:right;">0.2 d</div>
<div class="t m g" style="left:957.00px;top:80.30px;width:30.30px;height:16.60px;line-height:16.60px;text-align:right;">5.3 h</div>
<div class="t xs" style="left:684.00px;top:99.10px;width:81.50px;height:16.60px;line-height:16.60px;text-align:left;">* <span class="h">월</span>/<span class="h">목</span>/<span class="h">일</span></div>
<div class="t s" style="left:682.00px;top:113.50px;width:83.50px;height:33.20px;line-height:33.20px;text-align:center;"><span class="h">천동 연산 밀궁</span></div>
<div class="t m rb" style="left:765.50px;top:113.50px;width:76.60px;height:33.20px;line-height:33.20px;text-align:right;">0&nbsp;<span class="h">번</span></div>
<div class="t m rb" style="left:843.30px;top:113.50px;width:69.30px;height:33.20px;line-height:33.20px;text-align:right;">-</div>
<div class="t m" style="left:918.30px;top:113.50px;width:28.70px;height:33.20px;line-height:33.20px;text-align:right;">0.0 d</div>
<div class="t m" style="left:957.00px;top:113.50px;width:30.30px;height:33.20px;line-height:33.20px;text-align:right;">0.0 h</div>
<div class="t xs" style="left:684.00px;top:148.90px;width:81.50px;height:16.60px;line-height:16.60px;text-align:left;">* <span class="h">월</span>/<span class="h">목</span>/<span class="h">일</span></div>
<div class="t s" style="left:682.00px;top:163.30px;width:83.50px;height:33.20px;line-height:33.20px;text-align:center;"><span class="h">태산부</span></div>
<div class="t m rb" style="left:765.50px;top:163.30px;width:76.60px;height:33.20px;line-height:33.20px;text-align:right;">0&nbsp;<span class="h">번</span></div>
<div class="t m rb" style="left:843.30px;top:163.30px;width:69.30px;height:33.20px;line-height:33.20px;text-align:right;">-</div>
<div class="t m" style="left:918.30px;top:163.30px;width:28.70px;height:33.20px;line-height:33.20px;text-align:right;">0.0 d</div>
<div class="t m" style="left:957.00px;top:163.30px;width:30.30px;height:33.20px;line-height:33.20px;text-align:right;">0.0 h</div>
<div class="t s" style="left:682.00px;top:229.70px;width:83.50px;height:16.60px;line-height:16.60px;text-align:center;"><span class="h">모라 지맥</span></div>
<div class="t m rb" style="left:765.50px;top:229.70px;width:76.60px;height:16.60px;line-height:16.60px;text-align:right;">0&nbsp;<span class="h">번</span></div>
<div class="t m rb" style="left:843.30px;top:229.70px;width:69.30px;height:16.60px;line-height:16.60px;text-align:right;">-</div>
<div class="t m" style="left:918.30px;top:229.70px;width:28.70px;height:16.60px;line-height:16.60px;text-align:right;">0.0 d</div>
<div class="t m" style="left:957.00px;top:229.70px;width:30.30px;height:16.60px;line-height:16.60px;text-align:right;">0.0 h</div>
<div class="t s g" style="left:682.00px;top:246.30px;width:83.50px;height:16.60px;line-height:16.60px;text-align:center;"><span class="h">총합</span></div>
<div class="t m g rb" style="left:765.50px;top:246.30px;width:76.60px;height:16.60px;line-height:16.60px;text-align:right;">1&nbsp;<span class="h">번</span></div>
<div class="t m g rb" style="left:843.30px;top:246.30px;width:69.30px;height:16.60px;line-height:16.60px;text-align:right;">40</div>
<div class="t m g" style="left:918.30px;top:246.30px;width:28.70px;height:16.60px;line-height:16.60px;text-align:right;">0.2 d</div>
<div class="t m g" style="left:957.00px;top:246.30px;width:30.30px;height:16.60px;line-height:16.60px;text-align:right;">5.3 h</div>
<div class="t s" style="left:843.30px;top:262.90px;width:152.70px;height:16.60px;line-height:16.60px;text-align:center;"><span class="h">예상 완료 시각</span></div>
<div class="t m g dt" style="left:843.30px;top:279.50px;width:152.70px;height:16.60px;line-height:16.60px;text-align:center;">1<span class="h">월</span> 24<span class="h">일</span> 03:11</div>
<div class="t o s" style="left:843.30px;top:329.30px;width:152.70px;height:16.60px;line-height:16.60px;text-align:center;"><span class="h">보유 레진 적용 시</span></div>
<div class="t s" style="left:843.30px;top:345.90px;width:75.00px;height:16.60px;line-height:16.60px;text-align:center;"><span class="h">레진 추가필요</span></div>
<div class="t s" style="left:918.30px;top:345.90px;width:77.70px;height:16.60px;line-height:16.60px;text-align:center;"><span class="h">쿨타임</span></div>
<div class="t m g" style="left:843.30px;top:362.50px;width:69.00px;height:16.60px;line-height:16.60px;text-align:right;">-</div>
<div class="t m g" style="left:918.30px;top:362.50px;width:28.70px;height:16.60px;line-height:16.60px;text-align:right;">0.0 d</div>
<div class="t m g" style="left:957.00px;top:362.50px;width:30.30px;height:16.60px;line-height:16.60px;text-align:right;">0.0 h</div>
<div class="t s" style="left:843.30px;top:379.10px;width:152.70px;height:16.60px;line-height:16.60px;text-align:center;"><span class="h">예상 완료 시각</span></div>
<div class="t m g dt" style="left:843.30px;top:395.70px;width:152.70px;height:16.60px;line-height:16.60px;text-align:center;">1<span class="h">월</span> 23<span class="h">일</span> 21:51</div>
</body></html>
